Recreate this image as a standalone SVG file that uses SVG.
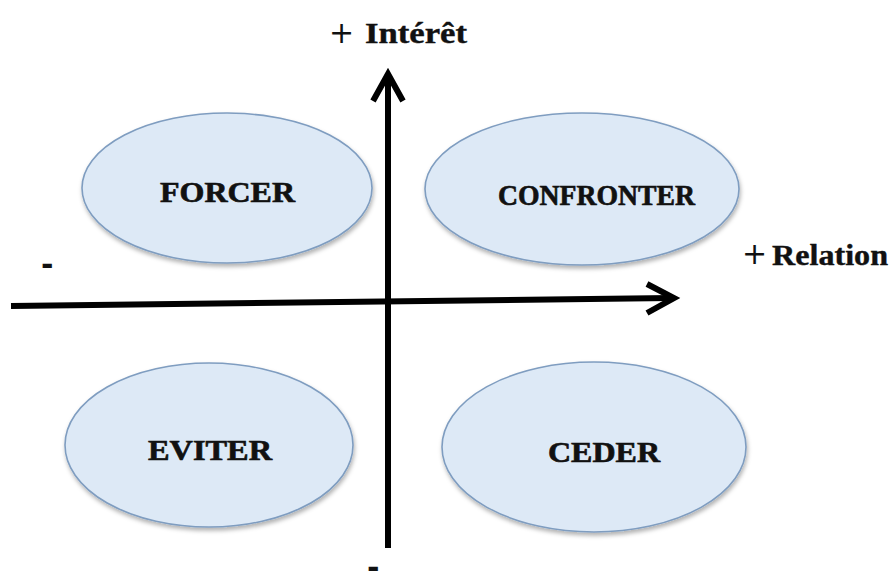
<svg xmlns="http://www.w3.org/2000/svg" width="892" height="574" viewBox="0 0 892 574">
  <style>
    .zone { fill: #dde9f6; stroke: #7f9dc0; stroke-width: 1.6; filter: url(#soft); }
    .zlabel { font-family: "Liberation Serif", "Times New Roman", serif; font-weight: bold; font-size: 30px; fill: #111; stroke: #111; stroke-width: 0.7; text-anchor: middle; }
    .axis { stroke: #000; stroke-width: 6; fill: none; }
    .tick { stroke: #000; stroke-width: 6; fill: none; stroke-linejoin: miter; }
    .alabel { font-family: "Liberation Serif", "Times New Roman", serif; font-weight: bold; font-size: 29px; fill: #111; stroke: #111; stroke-width: 0.4; }
    .plus { font-family: "DejaVu Sans", sans-serif; font-weight: normal; font-size: 30px; fill: #111; }
    .minus { font-family: "DejaVu Sans", sans-serif; font-weight: bold; font-size: 30px; fill: #111; }
  </style>
  <defs>
    <filter id="soft" x="-10%" y="-10%" width="120%" height="130%">
      <feDropShadow dx="1" dy="3" stdDeviation="2" flood-color="#000" flood-opacity="0.3"/>
    </filter>
  </defs>
  <rect width="892" height="574" fill="#fff"/>

  <!-- quadrant ellipses -->
  <g id="forcer">
    <ellipse class="zone" cx="227" cy="188" rx="145" ry="75"/>
    <text class="zlabel" x="227.5" y="202" textLength="135" lengthAdjust="spacingAndGlyphs">FORCER</text>
  </g>
  <g id="confronter">
    <ellipse class="zone" cx="582" cy="189" rx="157" ry="76"/>
    <text class="zlabel" x="596.5" y="205" textLength="197" lengthAdjust="spacingAndGlyphs">CONFRONTER</text>
  </g>
  <g id="eviter">
    <ellipse class="zone" cx="209" cy="445" rx="144" ry="82"/>
    <text class="zlabel" x="210" y="460" textLength="124" lengthAdjust="spacingAndGlyphs">EVITER</text>
  </g>
  <g id="ceder">
    <ellipse class="zone" cx="594" cy="447" rx="152" ry="85"/>
    <text class="zlabel" x="604" y="462" textLength="112" lengthAdjust="spacingAndGlyphs">CEDER</text>
  </g>

  <!-- axes -->
  <g id="connectors">
    <line class="axis" x1="388" y1="548" x2="388" y2="76"/>
    <path class="tick" d="M373,101 L388,74 L403,101"/>
    <line class="axis" x1="11" y1="306" x2="671" y2="298"/>
    <path class="tick" d="M647,284 L674,298 L647,313"/>
  </g>

  <!-- axis labels -->
  <g id="labels">
    <text class="plus" x="329" y="43">+</text>
    <text class="alabel" x="365" y="43" textLength="102" lengthAdjust="spacingAndGlyphs">Intérêt</text>
    <text class="plus" x="742" y="264" font-size="28">+</text>
    <text class="alabel" x="772" y="265" textLength="116" lengthAdjust="spacingAndGlyphs">Relation</text>
    <text class="minus" x="41" y="275">-</text>
    <text class="minus" x="367" y="578">-</text>
  </g>
</svg>
